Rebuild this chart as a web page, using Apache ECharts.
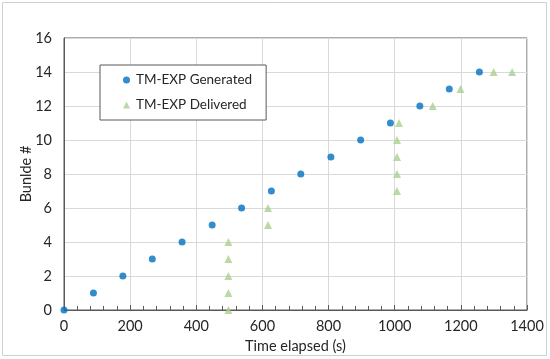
<!DOCTYPE html>
<html><head><meta charset="utf-8">
<script src="https://cdn.jsdelivr.net/npm/echarts@6/dist/echarts.min.js"></script>
<style>html,body{margin:0;padding:0;background:#fff}#c{width:550px;height:359px}</style>
</head><body><div id="c"></div>
<script>
const genTime = [0, 89, 178, 267, 357, 448, 537, 627, 716, 807, 897, 987, 1076, 1165, 1256];
const genBundle = [0, 1, 2, 3, 4, 5, 6, 7, 8, 9, 10, 11, 12, 13, 14];
const delTime = [497, 497, 497, 497, 497, 617, 617, 1007, 1007, 1007, 1007, 1013, 1115, 1199, 1299, 1355];
const delBundle = [0, 1, 2, 3, 4, 5, 6, 7, 8, 9, 10, 11, 12, 13, 14, 14];
const seriesNames = ['TM-EXP Generated', 'TM-EXP Delivered'];
const xTitle = 'Time elapsed (s)';
const yTitle = 'Bunlde #';

const font = 'Lato';
const fs = 14.5;
const chart = echarts.init(document.getElementById('c'));
chart.setOption({
  animation: false,
  backgroundColor: '#fff',
  graphic: [{type:'rect', shape:{x:2.5,y:2.5,width:544,height:353}, style:{fill:'none', stroke:'#d0d0d0', lineWidth:1}, silent:true}],
  grid: {left: 64, right: 23, top: 38, bottom: 49, show: true, borderColor: '#595959', borderWidth: 1},
  legend: {
    orient: 'vertical', left: 100, top: 65, padding: [8, 14, 8, 23],
    borderColor: '#595959', borderWidth: 1, backgroundColor: '#fff',
    itemWidth: 7, itemHeight: 7, itemGap: 11,
    textStyle: {fontFamily: font, fontSize: 13.5, color: '#262626', padding: [0,0,0,1]},
    data: [{name: seriesNames[0], icon: 'circle'}, {name: seriesNames[1], icon: 'triangle'}]
  },
  xAxis: {
    type: 'value', min: 0, max: 1400, interval: 200,
    name: xTitle, nameLocation: 'middle', nameGap: 29, nameMoveOverlap: false,
    nameTextStyle: {fontFamily: font, fontSize: fs, color: '#262626'},
    axisLine: {show: true, onZero: false, lineStyle: {color: '#595959'}},
    axisTick: {show: true, inside: true, length: 5, lineStyle: {color: '#595959'}},
    minorTick: {show: true, splitNumber: 5, length: 4, lineStyle: {color: '#595959'}},
    axisLabel: {fontFamily: font, fontSize: fs, color: '#262626', margin: 9, formatter: v => String(v)},
    splitLine: {show: true, lineStyle: {color: '#d9d9d9'}}
  },
  yAxis: {
    type: 'value', min: 0, max: 16, interval: 2,
    name: yTitle, nameLocation: 'middle', nameGap: 30, nameRotate: 90, nameMoveOverlap: false,
    nameTextStyle: {fontFamily: font, fontSize: fs, color: '#262626'},
    axisLine: {show: true, lineStyle: {color: '#595959'}},
    axisTick: {show: false},
    axisLabel: {fontFamily: font, fontSize: fs, color: '#262626', margin: 12},
    splitLine: {show: true, lineStyle: {color: '#d9d9d9'}}
  },
  series: [
    {name: seriesNames[0], type: 'scatter', symbol: 'circle', symbolSize: 7,
     itemStyle: {color: '#0070C0'}, z: 3,
     data: genTime.map((t, i) => [t, genBundle[i]])},
    {name: seriesNames[1], type: 'scatter', symbol: 'triangle', symbolSize: 8,
     itemStyle: {color: '#A9D18E'}, z: 2,
     data: delTime.map((t, i) => [t, delBundle[i]])}
  ]
});
</script></body></html>
